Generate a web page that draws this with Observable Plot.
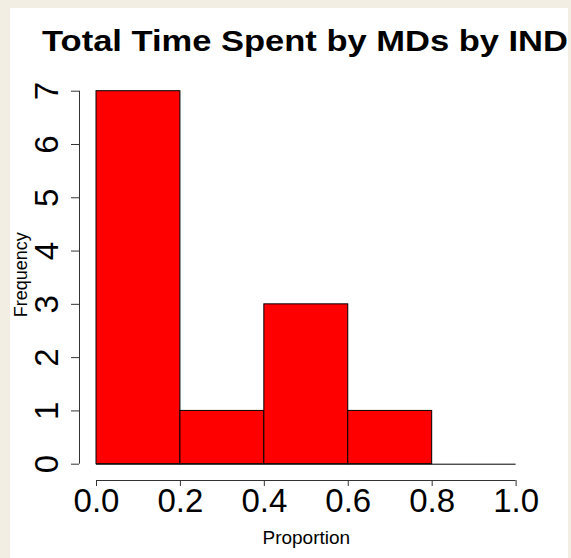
<!DOCTYPE html>
<html><head><meta charset="utf-8">
<script src="https://cdn.jsdelivr.net/npm/d3@7"></script>
<script src="https://cdn.jsdelivr.net/npm/@observablehq/plot@0.6"></script>
<style>
html,body{margin:0;padding:0;background:#f2eee3;width:571px;height:558px;overflow:hidden;}
#panel{position:absolute;left:10px;top:8px;width:558px;height:550px;background:#fff;overflow:hidden;}
#title{position:absolute;left:294.5px;top:18px;font:bold 30px/30px 'Liberation Sans',Arial,sans-serif;white-space:nowrap;color:#000;transform:translateX(-50%) scaleX(1.15);}
#chart{position:absolute;left:0;top:0;}
</style></head>
<body><div id="panel"><div id="chart"></div><div id="title">Total Time Spent by MDs by IND</div></div>
<script>
const titleText = "Total Time Spent by MDs by IND";
const xLabel = "Proportion";
const yLabel = "Frequency";
const binStart = [0, 0.2, 0.4, 0.6, 0.8];
const binEnd = [0.2, 0.4, 0.6, 0.8, 1.0];
const counts = [7, 1, 3, 1, 0];
const xTicks = [0, 0.2, 0.4, 0.6, 0.8, 1.0];
const xTickLabels = ["0.0", "0.2", "0.4", "0.6", "0.8", "1.0"];
const yTicks = [0, 1, 2, 3, 4, 5, 6, 7];

document.getElementById("title").textContent = titleText;

const bins = binStart.map((s, i) => ({x1: s, x2: binEnd[i], y: counts[i]}));
const W = 558, H = 550;
const font = "'Liberation Sans', Arial, sans-serif";
const chart = Plot.plot({
  width: W, height: H,
  marginLeft: 86, marginRight: 52.4, marginTop: 82.7, marginBottom: 94.3,
  x: {domain: [xTicks[0], xTicks[xTicks.length - 1]]},
  y: {domain: [yTicks[0], yTicks[yTicks.length - 1]]},
  style: {fontFamily: font, background: "transparent", color: "#000"},
  marks: [
    Plot.rectY(bins, {x1: "x1", x2: "x2", y1: 0, y2: "y", fill: "#ff0000", stroke: "#000", strokeWidth: 1}),
    Plot.ruleY([0], {x1: xTicks[0], x2: xTicks[xTicks.length - 1], stroke: "#000", strokeWidth: 1}),
    // x axis line + ticks
    Plot.ruleY([0], {x1: xTicks[0], x2: xTicks[xTicks.length - 1], dy: 16.3, stroke: "#333", strokeWidth: 1}),
    Plot.axisX({ticks: xTicks, tickSize: 6, tickFormat: () => "", dy: 16.3, label: null, stroke: "#333"}),
    Plot.text(xTicks, {x: d => d, text: (d, i) => xTickLabels[i], frameAnchor: "bottom", dy: 47.3, lineAnchor: "bottom", fontSize: 33, fill: "#000"}),
    // y axis line + ticks
    Plot.ruleX([0], {y1: yTicks[0], y2: yTicks[yTicks.length - 1], dx: -17, stroke: "#333", strokeWidth: 1}),
    Plot.axisY({ticks: yTicks, tickSize: 8, tickFormat: () => "", dx: -17, label: null, stroke: "#333"}),
    Plot.text(yTicks, {y: d => d, text: d => String(d), frameAnchor: "left", dx: -39, rotate: -90, textAnchor: "middle", lineAnchor: "bottom", fontSize: 33, fill: "#000"}),
    // axis titles
    Plot.text([yLabel], {text: d => d, frameAnchor: "left", dx: -70, dy: -3, rotate: -90, textAnchor: "middle", lineAnchor: "bottom", fontSize: 18, fill: "#000"}),
    Plot.text([xLabel], {text: d => d, frameAnchor: "bottom", dy: 79.3, textAnchor: "middle", lineAnchor: "bottom", fontSize: 19, fill: "#000"})
  ]
});
document.getElementById("chart").appendChild(chart);
</script>
</body></html>
